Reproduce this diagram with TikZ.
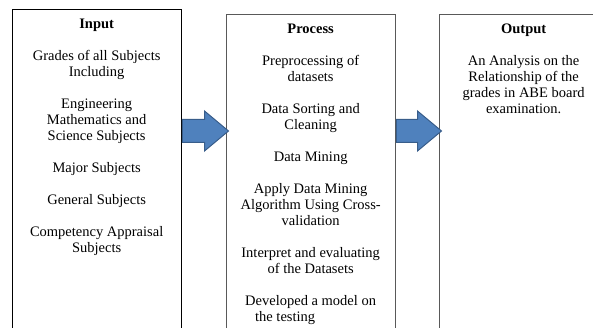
\documentclass[tikz,border=0pt]{standalone}
\usepackage{fontspec}
\setmainfont{Liberation Serif}
\usetikzlibrary{calc}

\definecolor{arrowfill}{RGB}{79,129,189}
\definecolor{arrowline}{RGB}{56,93,138}

\tikzset{
    panel/.style={draw, line width=0.8pt, anchor=north west, minimum width=168.5pt, minimum height=340pt, inner sep=0pt},
    content/.style={anchor=north, align=center, inner sep=0pt, font=\fontsize{14.5}{16}\selectfont},
    blockarrow/.style={fill=arrowfill, draw=arrowline, line width=1pt, line join=miter}
}

\begin{document}
\begin{tikzpicture}[x=1pt, y=-1pt]
    % Frame
    \useasboundingbox (0,0) rectangle (593,328);
    \clip (0,0) rectangle (593,328);

    % Boxes
    \node[panel, draw=black] (input) at (12,9) {};
    \node[panel, draw=black!65] (process) at (226,14) {};
    \node[panel, draw=black!65] (output) at (439,14) {};

    % Texts
    \node[content] (inputtext) at ($(input.north)+(0,9.5)$) {\textbf{Input}\\[16pt]
        Grades of all Subjects\\ Including\\[16pt]
        Engineering\\ Mathematics and\\ Science Subjects\\[16pt]
        Major Subjects\\[16pt]
        General Subjects\\[16pt]
        Competency Appraisal\\ Subjects};
    \node[content] (processtext) at ($(process.north)+(0,10)$) {\textbf{Process}\\[16pt]
        Preprocessing of\\ datasets\\[16pt]
        Data Sorting and\\ Cleaning\\[16pt]
        Data Mining\\[16pt]
        Apply Data Mining\\ Algorithm Using Cross-\\ validation\\[16pt]
        Interpret and evaluating\\ of the Datasets\\[16pt]
        Developed a model on\\ the testing\hspace*{51pt}};
    \node[content] (outputtext) at ($(output.north)+(0,10)$) {\textbf{Output}\\[16pt]
        An Analysis on the\\ Relationship of the\\ grades in ABE board\\ examination.};

    % Arrows
    \path (0,131) coordinate (mid);
    \foreach \from/\to in {input/process, process/output} {
        \coordinate (t) at ($(\from.east |- mid)+(1,0)$);
        \coordinate (h) at ($(\to.west |- mid)+(2.5,0)$);
        \draw[blockarrow] ($(t)+(0,-11.5)$) -- ($(h)+(-24,-11.5)$) -- ($(h)+(-24,-20)$) -- (h)
            -- ($(h)+(-24,20)$) -- ($(h)+(-24,11.5)$) -- ($(t)+(0,11.5)$) -- cycle;
    }
\end{tikzpicture}
\end{document}
